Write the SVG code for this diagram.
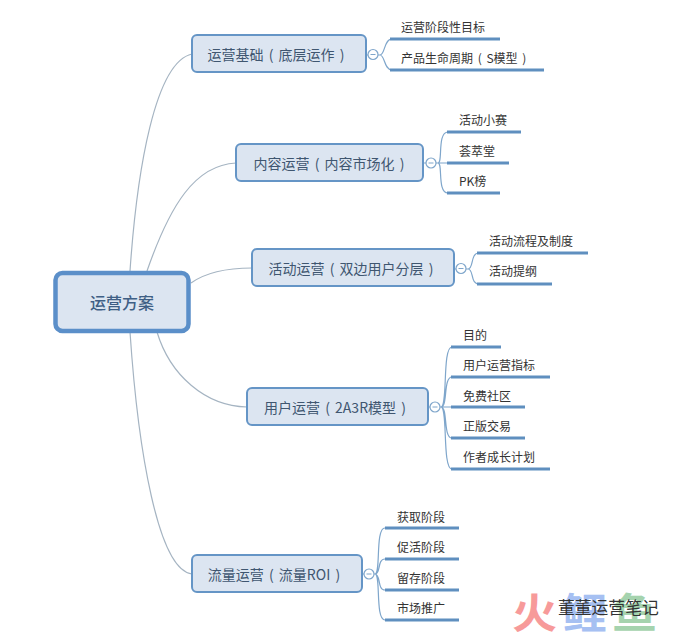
<svg xmlns="http://www.w3.org/2000/svg" width="681" height="637" viewBox="0 0 681 637">
<style>
text{font-family:"Noto Sans CJK SC","Liberation Sans",sans-serif}
.b{fill:#dce5f1;stroke:#6595c6;stroke-width:2}
.t{font-size:14px;fill:#3f5670;text-anchor:middle;word-spacing:2px}
.l{font-size:12px;fill:#333;word-spacing:2px}
.u{stroke:#5f8fbf;stroke-width:3;fill:none}
.c{stroke:#a5b4c2;stroke-width:1.2;fill:none}
.g{stroke:#7fa6cb;stroke-width:1.2;fill:none}
.k{fill:#fff;stroke:#7fa6cb;stroke-width:1.2}
.m{stroke:#7fa6cb;stroke-width:1}
</style>
<rect width="681" height="637" fill="#fff"/>
<g id="connectors">
<path class="c" d="M130 271C137 170 155 62 192 54"/>
<path class="c" d="M147 271C170 205 195 165 236 163"/>
<path class="c" d="M191 283C205 273 225 268 252 268"/>
<path class="c" d="M157 332C170 375 205 406 247 407"/>
<path class="c" d="M130 332C138 450 158 570 192 574"/>
<g id="branch-1"><path class="g" d="M366 55H368M378 55H380C385 55 384 39 392 39H400M380 55C385 55 384 70 392 70H400"/><path class="u" d="M390 39H500M390 70H544"/></g>
<g id="branch-2"><path class="g" d="M423 163H426M436 163H438C443 163 437 132 448 132H452M438 163H452M438 163C443 163 437 193 448 193H452"/><path class="u" d="M447 132H521M447 163H509M447 193H500"/></g>
<g id="branch-3"><path class="g" d="M454 269H456M466 269H468C474 269 470 253 479 253H484M468 269C474 269 470 284 479 284H484"/><path class="u" d="M477 253H588M477 284H552"/></g>
<g id="branch-4"><path class="g" d="M428 407H430M440 407H441C448 407 442 347 452 347H456M441 407C448 407 443 377 452 377H456M441 407H456M441 407C448 407 443 438 452 438H456M441 407C448 407 442 469 452 469H456"/><path class="u" d="M451 347H501M451 377H550M451 407H525M451 438H525M451 469H550"/></g>
<g id="branch-5"><path class="g" d="M362 574H364M374 574H375C381 574 375 528 385 528H390M375 574C381 574 377 559 385 559H390M375 574C381 574 377 590 385 590H390M375 574C381 574 375 620 385 620H390"/><path class="u" d="M385 528H459M385 559H459M385 590H459M385 620H459"/></g>
</g>
<g id="root"><rect x="55.500" y="273" width="133" height="58" rx="7" fill="#dce5f1" stroke="#5b8fc9" stroke-width="4.500"/><text x="122" y="309" text-anchor="middle" font-size="16" font-weight="500" fill="#3f5f85">运营方案</text></g>
<g id="node-1"><rect class="b" x="192" y="35" width="174" height="37" rx="5"/><text class="t" x="276" y="60">运营基础 ( 底层运作 )</text><circle class="k" cx="373" cy="54.500" r="5"/><path class="m" d="M370.500 54.500H375.500"/></g>
<g id="node-2"><rect class="b" x="236" y="144" width="187" height="37" rx="5"/><text class="t" x="329" y="169">内容运营 ( 内容市场化 )</text><circle class="k" cx="431" cy="163" r="5"/><path class="m" d="M428.500 163H433.500"/></g>
<g id="node-3"><rect class="b" x="252" y="249" width="202" height="37" rx="5"/><text class="t" x="351" y="274">活动运营 ( 双边用户分层 )</text><circle class="k" cx="461" cy="268.500" r="5"/><path class="m" d="M458.500 268.500H463.500"/></g>
<g id="node-4"><rect class="b" x="247" y="388" width="181" height="37" rx="5"/><text class="t" x="335" y="413">用户运营 ( 2A3R模型 )</text><circle class="k" cx="435" cy="407" r="5"/><path class="m" d="M432.500 407H437.500"/></g>
<g id="node-5"><rect class="b" x="192" y="555" width="170" height="37" rx="5"/><text class="t" x="274" y="580">流量运营 ( 流量ROI )</text><circle class="k" cx="369" cy="574" r="5"/><path class="m" d="M366.500 574H371.500"/></g>
<g id="leaves-1"><text class="l" x="401" y="32">运营阶段性目标</text><text class="l" x="401" y="63">产品生命周期 ( S模型 )</text></g>
<g id="leaves-2"><text class="l" x="459" y="125">活动小赛</text><text class="l" x="459" y="156">荟萃堂</text><text class="l" x="459" y="186">PK榜</text></g>
<g id="leaves-3"><text class="l" x="489" y="246">活动流程及制度</text><text class="l" x="489" y="276">活动提纲</text></g>
<g id="leaves-4"><text class="l" x="463" y="340">目的</text><text class="l" x="463" y="370">用户运营指标</text><text class="l" x="463" y="401">免费社区</text><text class="l" x="463" y="431">正版交易</text><text class="l" x="463" y="462">作者成长计划</text></g>
<g id="leaves-5"><text class="l" x="397" y="522">获取阶段</text><text class="l" x="397" y="552">促活阶段</text><text class="l" x="397" y="583">留存阶段</text><text class="l" x="397" y="613">市场推广</text></g>
<g id="watermark">
<text transform="translate(512 628) scale(1 .92)" font-size="45" font-weight="700" fill="#f79a9a">火</text>
<text transform="translate(562 628) scale(1 .92)" font-size="45" font-weight="700" fill="#a6c0f2">鲤</text>
<text transform="translate(612 628) scale(1 .92)" font-size="45" font-weight="700" fill="#a5d3ae">鱼</text>
<text x="558" y="614" font-size="16.800" fill="#333">董董运营笔记</text>
</g>
</svg>
